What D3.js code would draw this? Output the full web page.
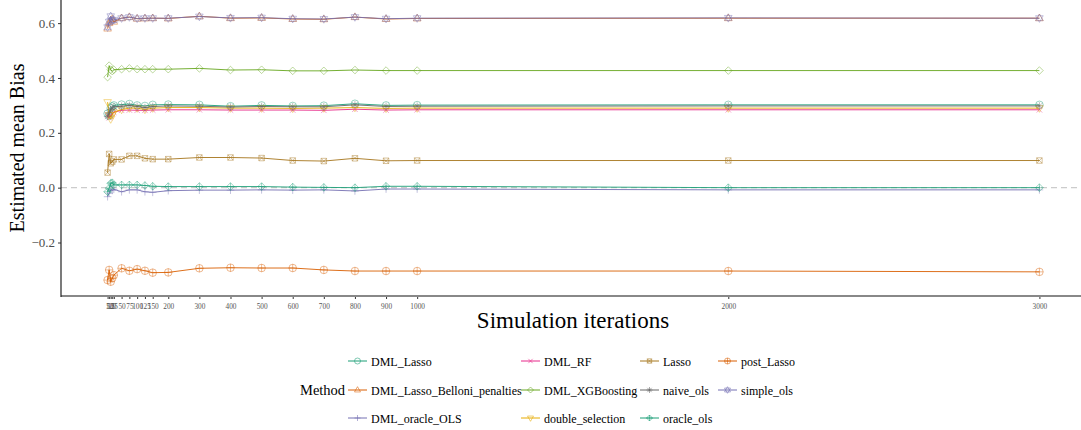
<!DOCTYPE html>
<html>
<head>
<meta charset="utf-8">
<script src="https://cdn.jsdelivr.net/npm/d3@7/dist/d3.min.js"></script>
<style>
  body { margin: 0; background: white; }
  text { font-family: "Liberation Serif", "Times New Roman", serif; }
</style>
</head>
<body>
<div id="chart"></div>
<script>
// simulation iterations (x)
const iterations = [5, 10, 15, 20, 25, 50, 75, 100, 125, 150, 200, 300, 400, 500, 600, 700, 800, 900, 1000, 2000, 3000];

// estimated mean bias per method
const dmlLasso        = [0.270, 0.262, 0.290, 0.296, 0.300, 0.303, 0.305, 0.300, 0.298, 0.302, 0.303, 0.302, 0.297, 0.300, 0.298, 0.299, 0.306, 0.300, 0.301, 0.302, 0.302];
const dmlLassoBelloni = [0.580, 0.600, 0.610, 0.615, 0.605, 0.618, 0.622, 0.616, 0.617, 0.618, 0.617, 0.625, 0.618, 0.619, 0.615, 0.614, 0.622, 0.615, 0.617, 0.618, 0.618];
const dmlOracleOls    = [-0.033, -0.020, -0.008, -0.010, -0.006, -0.015, -0.008, -0.008, -0.015, -0.017, -0.011, -0.009, -0.009, -0.008, -0.009, -0.008, -0.012, -0.005, -0.005, -0.008, -0.008];
const dmlRf           = [0.265, 0.255, 0.262, 0.270, 0.275, 0.282, 0.283, 0.282, 0.282, 0.283, 0.284, 0.284, 0.283, 0.283, 0.283, 0.282, 0.286, 0.283, 0.284, 0.284, 0.284];
const dmlXgb          = [0.403, 0.445, 0.430, 0.425, 0.430, 0.432, 0.435, 0.432, 0.432, 0.432, 0.432, 0.435, 0.429, 0.430, 0.426, 0.426, 0.429, 0.427, 0.427, 0.427, 0.427];
const doubleSelection = [0.312, 0.265, 0.250, 0.265, 0.275, 0.285, 0.290, 0.290, 0.285, 0.290, 0.292, 0.292, 0.290, 0.290, 0.289, 0.290, 0.292, 0.289, 0.290, 0.290, 0.290];
const lasso           = [0.055, 0.123, 0.089, 0.095, 0.103, 0.103, 0.116, 0.116, 0.107, 0.104, 0.104, 0.110, 0.110, 0.108, 0.099, 0.097, 0.107, 0.098, 0.099, 0.099, 0.099];
const naiveOls        = [0.260, 0.272, 0.285, 0.290, 0.295, 0.297, 0.300, 0.296, 0.292, 0.296, 0.298, 0.297, 0.294, 0.296, 0.295, 0.295, 0.302, 0.296, 0.297, 0.298, 0.298];
const oracleOls       = [-0.015, -0.002, 0.016, 0.018, 0.010, 0.010, 0.010, 0.010, 0.008, 0.005, 0.004, 0.004, 0.004, 0.004, 0.002, 0.001, 0.000, 0.005, 0.005, 0.000, 0.000];
const postLasso       = [-0.337, -0.300, -0.343, -0.330, -0.319, -0.294, -0.303, -0.297, -0.303, -0.310, -0.309, -0.294, -0.292, -0.293, -0.293, -0.300, -0.304, -0.304, -0.304, -0.304, -0.307];
const simpleOls       = [0.585, 0.605, 0.625, 0.610, 0.612, 0.618, 0.622, 0.617, 0.618, 0.618, 0.618, 0.624, 0.619, 0.620, 0.616, 0.615, 0.622, 0.616, 0.618, 0.619, 0.618];

const methods = ["DML_Lasso", "DML_Lasso_Belloni_penalties", "DML_oracle_OLS", "DML_RF", "DML_XGBoosting",
  "double_selection", "Lasso", "naive_ols", "oracle_ols", "post_Lasso", "simple_ols"];
const methodValues = [dmlLasso, dmlLassoBelloni, dmlOracleOls, dmlRf, dmlXgb, doubleSelection, lasso, naiveOls, oracleOls, postLasso, simpleOls];
const yTicks = [-0.2, 0.0, 0.2, 0.4, 0.6];

const serif = "'Liberation Serif', 'Times New Roman', serif";
const width = 1081, height = 430;
const svg = d3.select("#chart").append("svg")
  .attr("width", width).attr("height", height)
  .attr("font-family", serif);

const series = methods.map((m, i) => ({
  name: m, shape: i + 1,
  points: iterations.map((it, j) => ({x: it, y: methodValues[i][j]}))
}));

// ggplot style 5% expansion
const xExt = d3.extent(iterations);
const xPad = (xExt[1] - xExt[0]) * 0.05;
const allY = methodValues.flat();
const yExt = d3.extent(allY);
const yPad = (yExt[1] - yExt[0]) * 0.05;

const x = d3.scaleLinear().domain([xExt[0] - xPad, xExt[1] + xPad]).range([61, 1086]);
const y = d3.scaleLinear().domain([yExt[0] - yPad, yExt[1] + yPad]).range([295, 3]);

const color = d3.scaleOrdinal()
  .domain(methods)
  .range(d3.schemeDark2.concat(d3.schemeDark2.slice(0, 3)));

// ggplot shapes 1..11
function shapePath(shape, r) {
  const k = r * 0.72;
  const circ = `M${r},0A${r},${r} 0 1,1 ${-r},0A${r},${r} 0 1,1 ${r},0Z`;
  const plus = `M${-r},0H${r}M0,${-r}V${r}`;
  const cross = `M${-k},${-k}L${k},${k}M${-k},${k}L${k},${-k}`;
  const diam = `M0,${-r}L${r},0L0,${r}L${-r},0Z`;
  const tu = `M0,${-r * 1.1}L${r},${r * 0.65}L${-r},${r * 0.65}Z`;
  const td = `M0,${r * 1.1}L${r},${-r * 0.65}L${-r},${-r * 0.65}Z`;
  switch (shape) {
    case 1: return circ;
    case 2: return tu;
    case 3: return plus;
    case 4: return cross;
    case 5: return diam;
    case 6: return td;
    case 7: return `M${-k},${-k}H${k}V${k}H${-k}Z` + cross;
    case 8: return plus + cross;
    case 9: return diam + plus;
    case 10: return circ + plus;
    case 11: return tu + td;
  }
}

// zero reference line
svg.append("line")
  .attr("x1", 61).attr("x2", width)
  .attr("y1", y(0)).attr("y2", y(0))
  .attr("stroke", "#cccccc").attr("stroke-width", 1.3)
  .attr("stroke-dasharray", "6,4");

const line = d3.line().x(d => x(d.x)).y(d => y(d.y));

const groups = svg.selectAll("g.series")
  .data(series)
  .enter().append("g").attr("class", "series");

groups.append("path")
  .attr("d", d => line(d.points))
  .attr("fill", "none")
  .attr("stroke", d => color(d.name))
  .attr("stroke-width", 1)
  .attr("opacity", 0.9);

groups.each(function(s) {
  d3.select(this).selectAll("path.pt")
    .data(s.points)
    .enter().append("path")
    .attr("class", "pt")
    .attr("transform", d => `translate(${x(d.x)},${y(d.y)})`)
    .attr("d", shapePath(s.shape, 3.8))
    .attr("fill", "none")
    .attr("stroke", color(s.name))
    .attr("stroke-width", 0.8)
    .attr("opacity", 0.55);
});

// axes
const xAxis = svg.append("g")
  .attr("transform", "translate(0,296)")
  .call(d3.axisBottom(x).tickValues(iterations).tickSize(3).tickFormat(d3.format("d")))
  .attr("font-family", serif);
xAxis.select(".domain").remove();
xAxis.selectAll(".tick line").attr("stroke", "#333");
xAxis.selectAll(".tick text")
  .attr("fill", "#555").style("font-size", "7.3px").attr("dy", "0.9em");
svg.append("line")
  .attr("x1", 61).attr("x2", width).attr("y1", 296).attr("y2", 296)
  .attr("stroke", "#888").attr("stroke-width", 2);

const yAxis = svg.append("g")
  .attr("transform", "translate(61,0)")
  .call(d3.axisLeft(y).tickValues(yTicks).tickSize(3).tickFormat(d3.format(".1f")))
  .attr("font-family", serif);
yAxis.select(".domain").remove();
yAxis.selectAll(".tick line").attr("stroke", "#333");
yAxis.selectAll(".tick text")
  .attr("fill", "#4d4d4d").style("font-size", "13px").attr("x", -6);
svg.append("line")
  .attr("x1", 61).attr("x2", 61).attr("y1", 0).attr("y2", 297)
  .attr("stroke", "#222").attr("stroke-width", 1.2);

// axis titles
svg.append("text")
  .attr("x", 573).attr("y", 328)
  .attr("text-anchor", "middle")
  .style("font-size", "23px")
  .text("Simulation iterations");

svg.append("text")
  .attr("transform", "translate(24,148) rotate(-90)")
  .attr("text-anchor", "middle")
  .style("font-size", "20px")
  .text("Estimated mean Bias");

// legend
svg.append("text")
  .attr("x", 300).attr("y", 395)
  .style("font-size", "14.5px")
  .text("Method");

const colX = [348, 521, 640, 718];
const rowY = [361, 390, 418];
const legend = svg.selectAll("g.key")
  .data(series)
  .enter().append("g").attr("class", "key")
  .attr("transform", (d, i) => `translate(${colX[Math.floor(i / 3)]},${rowY[i % 3]})`);

legend.append("line")
  .attr("x1", 0).attr("x2", 19).attr("y1", 0).attr("y2", 0)
  .attr("stroke", d => color(d.name)).attr("stroke-width", 1);
legend.append("path")
  .attr("transform", "translate(9.5,0)")
  .attr("d", d => shapePath(d.shape, 3))
  .attr("fill", "none")
  .attr("stroke", d => color(d.name))
  .attr("stroke-width", 0.8)
  .attr("opacity", 0.7);
legend.append("text")
  .attr("x", 23).attr("y", 4.5)
  .style("font-size", "12px")
  .text(d => d.name);
</script>
</body>
</html>
